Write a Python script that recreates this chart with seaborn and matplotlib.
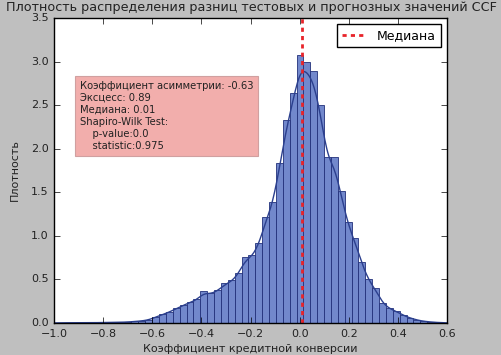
import numpy as np
import pandas as pd
import matplotlib
matplotlib.use("Agg")
import matplotlib.pyplot as plt
import seaborn as sns

# ---- data ----
bin_start = -0.9926
bin_width = 0.028
heights = [0.003, 0.003, 0.003, 0.003, 0.003, 0.003, 0.006, 0.007, 0.008, 0.009,
           0.012, 0.018, 0.025, 0.035, 0.07, 0.10, 0.13, 0.17, 0.21, 0.245,
           0.27, 0.37, 0.34, 0.38, 0.46, 0.49, 0.57, 0.76, 0.78, 0.92,
           1.22, 1.39, 1.84, 2.33, 2.64, 3.07, 3.00, 2.89, 2.50, 1.91,
           1.91, 1.51, 1.16, 0.97, 0.70, 0.50, 0.40, 0.23, 0.17, 0.14,
           0.09, 0.06, 0.035, 0.02, 0.012, 0.006, 0.003]
median_value = 0.01
stats_lines = ["Коэффициент асимметрии: -0.63",
               "Эксцесс: 0.89",
               "Медиана: 0.01",
               "Shapiro-Wilk Test:",
               "    p-value:0.0",
               "    statistic:0.975"]
title = "Плотность распределения разниц тестовых и прогнозных значений CCF"
xlabel = "Коэффициент кредитной конверсии"
ylabel = "Плотность"
legend_label = "Медиана"
xticks = [-1.0, -0.8, -0.6, -0.4, -0.2, 0.0, 0.2, 0.4, 0.6]
yticks = [0.0, 0.5, 1.0, 1.5, 2.0, 2.5, 3.0, 3.5]

n = len(heights)
edges = [bin_start + bin_width * i for i in range(n + 1)]
centers = [(edges[i] + edges[i + 1]) / 2 for i in range(n)]
df = pd.DataFrame({"x": centers, "h": heights})

plt.style.use("classic")
plt.rcParams["font.family"] = ["DejaVu Sans"]

fig = plt.figure(figsize=(5.02, 3.55), dpi=100)
fig.patch.set_facecolor("#bfbfbf")
ax = fig.add_axes([0.1076, 0.0901, 0.7829, 0.8592])

sns.histplot(data=df, x="x", weights="h", bins=edges, stat="count",
             color="#7288cc", alpha=1.0, edgecolor="#22307a", linewidth=0.6, ax=ax)
sns.kdeplot(data=df, x="x", weights="h", bw_adjust=0.2, color="#2b3f8e",
            linewidth=1.0, ax=ax, clip=(-1.0, 0.6), gridsize=400)
ax.axvline(median_value, color="#e8242a", linestyle="--", linewidth=2,
           dashes=(3, 3), label=legend_label)

ax.set_xlim(-1.0, 0.6)
ax.set_ylim(0, 3.5)
ax.set_xticks(xticks)
ax.set_yticks(yticks)
ax.tick_params(labelsize=8, direction="in", top=True, right=True, labelcolor="#222222")
ax.set_xlabel(xlabel, fontsize=8, labelpad=4, color="#222222")
ax.set_ylabel(ylabel, fontsize=8, labelpad=8, color="#222222")
fig.suptitle(title, fontsize=9.2, y=0.997, color="#222222")

ax.legend(loc="upper right", fontsize=9, frameon=True, fancybox=False,
          handlelength=2.0, borderpad=0.4, numpoints=1)

ax.text(0.065, 0.795, "\n".join(stats_lines), transform=ax.transAxes,
        fontsize=7.2, va="top", ha="left", linespacing=1.25, color="#222222",
        bbox=dict(boxstyle="square,pad=0.5", facecolor="#f2aeac",
                  edgecolor="#d0a0a0", linewidth=0.8))

fig.savefig("out.png", dpi=100, facecolor=fig.get_facecolor())
